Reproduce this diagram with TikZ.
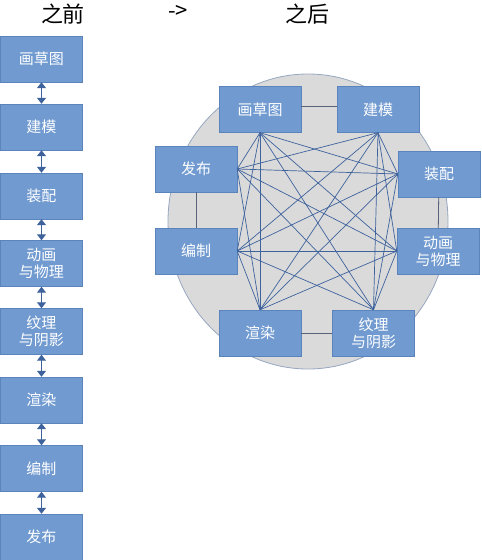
\documentclass[tikz,border=0pt]{standalone}
\usepackage{fontspec}
\setmainfont{Noto Sans CJK SC}
\usepackage{tikz}
\usetikzlibrary{arrows.meta}
\usetikzlibrary{positioning}
\usetikzlibrary{calc}

\definecolor{boxblue}{RGB}{112,154,208}
\definecolor{boxline}{RGB}{92,132,188}
\definecolor{linkblue}{RGB}{62,98,156}
\definecolor{ringgray}{RGB}{88,98,120}
\definecolor{discfill}{RGB}{218,218,218}
\definecolor{discline}{RGB}{150,166,192}

\begin{document}
\begin{tikzpicture}[
        x=1pt, y=-1pt,
        defaultS/.style={
            fill=boxblue,
            draw=boxline,
            text=white,
            align=center,
            inner sep=0pt,
            font=\fontsize{15}{17}\selectfont
        },
        boxS/.style={
        	defaultS,
        	rectangle,
        	minimum width=82pt,
        	minimum height=46pt
        },
        titleS/.style={
            font=\fontsize{22}{24}\selectfont
        },
        arrowS/.style={
            {Triangle[length=6pt,width=9pt]}-{Triangle[length=6pt,width=9pt]},
            draw=linkblue,
            line width=1pt
        },
        linkS/.style={draw=linkblue, line width=0.7pt},
        lineS/.style={draw=ringgray, line width=0.8pt},
    ]
    \useasboundingbox (0,0) rectangle (482,560);

	% titles
	\node[titleS] (before) at (63,14) {之前};
	\node[titleS] (goes) at (178,12) {->};
	\node[titleS] (after) at (307,14) {之后};

	% before: one chain
	\node[boxS] (sketchL) at (41.5,59) {画草图};
	\node[boxS] (modelL) at (41.5,127) {建模};
	\node[boxS] (rigL) at (41.5,196) {装配};
	\node[boxS] (animL) at (41.5,263.5) {动画\\与物理};
	\node[boxS] (textureL) at (41.5,331.5) {纹理\\与阴影};
	\node[boxS] (renderL) at (41.5,400) {渲染};
	\node[boxS] (compileL) at (41.5,468.5) {编制};
	\node[boxS] (publishL) at (41.5,537) {发布};

	\draw[arrowS] (sketchL) -- (modelL);
	\draw[arrowS] (modelL) -- (rigL);
	\draw[arrowS] (rigL) -- (animL);
	\draw[arrowS] (animL) -- (textureL);
	\draw[arrowS] (textureL) -- (renderL);
	\draw[arrowS] (renderL) -- (compileL);
	\draw[arrowS] (compileL) -- (publishL);

	% after: everything linked
	\filldraw[fill=discfill, draw=discline, line width=0.8pt] (308,221.5) ellipse (140 and 147.5);

	\node[boxS] (sketch) at (260,109.5) {画草图};
	\node[boxS] (model) at (378,109.5) {建模};
	\node[boxS] (publish) at (196,169) {发布};
	\node[boxS] (rig) at (439,174) {装配};
	\node[boxS] (compile) at (196,251) {编制};
	\node[boxS] (anim) at (438,251) {动画\\与物理};
	\node[boxS] (render) at (260,333) {渲染};
	\node[boxS] (texture) at (373.5,333) {纹理\\与阴影};

	\draw[lineS] ([yshift=3.5]sketch.east) -- ([yshift=3.5]model.west);
	\draw[lineS] (publish) -- (compile);
	\draw[lineS] (rig) -- (anim);
	\draw[lineS] (render) -- (texture);

	\foreach \a/\b in {sketch.south/rig.west, sketch.south/anim.west,
	    sketch.south/texture.north, sketch.south/render.north,
	    sketch.south/compile.east, sketch.south/publish.east,
	    model.south/rig.west, model.south/anim.west,
	    model.south/texture.north, model.south/render.north,
	    model.south/compile.east, model.south/publish.east,
	    rig.west/texture.north, rig.west/render.north,
	    rig.west/compile.east, rig.west/publish.east,
	    anim.west/texture.north, anim.west/render.north,
	    anim.west/compile.east, anim.west/publish.east,
	    texture.north/compile.east, texture.north/publish.east,
	    render.north/compile.east, render.north/publish.east}
	    \draw[linkS] (\a) -- (\b);

\end{tikzpicture}
\end{document}
